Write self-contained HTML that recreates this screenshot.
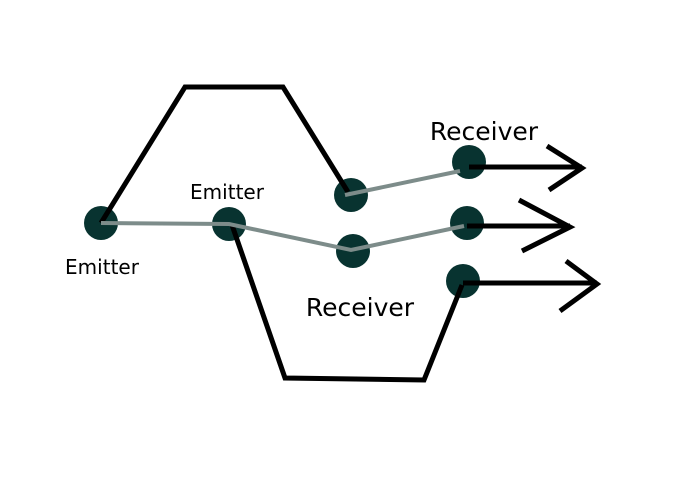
<!DOCTYPE html>
<html><head><style>body{margin:0;background:#fff}svg{display:block}</style></head><body>
<svg width="700" height="500" xmlns="http://www.w3.org/2000/svg" font-family="DejaVu Sans, Liberation Sans, sans-serif">
<rect width="700" height="500" fill="#fff"/>
<g fill="#083330">
<circle cx="101" cy="223" r="17"/><circle cx="229" cy="224" r="17"/>
<circle cx="351" cy="195" r="17"/><circle cx="353" cy="251" r="17"/>
<circle cx="469" cy="162" r="17"/><circle cx="467" cy="223" r="17"/>
<circle cx="463" cy="281" r="17"/>
</g>
<g fill="none" stroke="#000" stroke-width="5">
<polyline points="101,223 185,87 283,87 348,192"/>
<polyline points="232,225 285,378 424,380 462,285"/>
<line x1="469" y1="167" x2="582" y2="167"/>
<polyline points="547,146 582,168 549,190"/>
<line x1="467" y1="226" x2="570" y2="226"/>
<polyline points="519,200 570,227 522,251"/>
<line x1="463" y1="283" x2="597" y2="283"/>
<polyline points="566,261 597,284 560,311"/>
</g>
<g fill="none" stroke="#7d8c8a" stroke-width="4">
<polyline points="101,223 229,224 351,250 464,226"/>
<line x1="345" y1="195" x2="460" y2="171"/>
</g>
<g fill="#000" text-anchor="middle">
<text x="102" y="274" font-size="20">Emitter</text>
<text x="227" y="199" font-size="20">Emitter</text>
<text x="484" y="140" font-size="25">Receiver</text>
<text x="360" y="316" font-size="25">Receiver</text>
</g>
</svg>
</body></html>
